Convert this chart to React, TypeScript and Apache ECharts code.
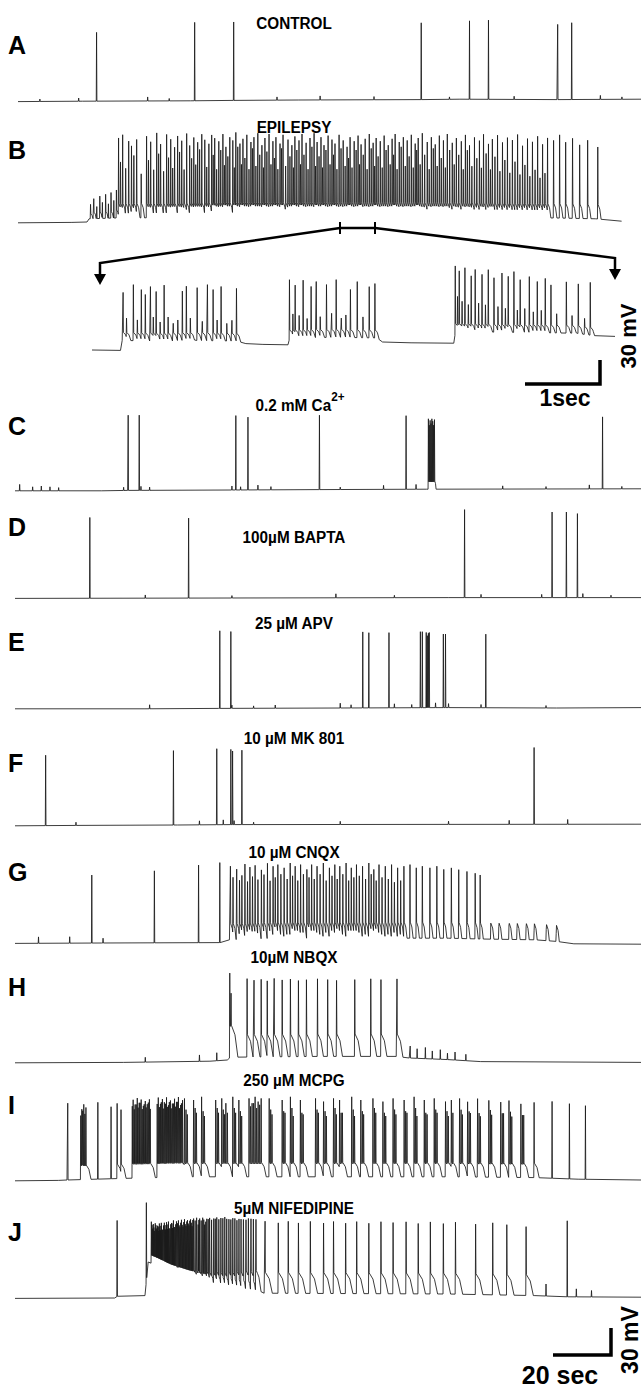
import React, { useEffect, useRef } from "react";
import * as echarts from "echarts";

const FONT = '"Liberation Sans", Arial, Helvetica, sans-serif';
const INK = "#000000";
const TRACE = "#1a1a1a";
const MV_PER_PX = 1.25; // 30 mV scale bar ~ 24 px
const REST = -70;

// ---------------- DATA ----------------
// slow potential: [time s, mV];  events: [time s, spike amplitude mV, after-depolarisation mV, decay s]
const aEnv = [[0, -72], [30, -71.5], [80, -71], [100, -70.5], [130, -70], [187, -69.5], [205, -69], [250, -69.5], [289, -69]];
const aEv = [[36.3, 86], [81.8, 98], [99.9, 98], [186.9, 96], [209.3, 98], [218.1, 99], [250.2, 94], [256.7, 96]];
const aSmall = [[10, 3], [28, 4], [60, 5], [70, 3], [120, 4], [140, 5], [165, 4], [200, 3], [230, 4], [270, 5], [280, 3]];

const bEnv = [[0, -71], [25, -70.5], [32, -70], [33, -66], [45, -65], [100, -64], [200, -64], [250, -65], [268, -66], [280, -69]];
const bEv = [
  [33.5, 18, 6, 1], [35, 25, 8, 1], [36.4, 15, 0, 0], [37.8, 28, 8, 1], [39, 20, 0, 0], [40.5, 30, 8, 1], [41.8, 18, 0, 0], [43, 32, 8, 1], [44.3, 22, 0, 0], [45.5, 35, 10, 1],
  [46.5, 100], [48.4, 104], [51.2, 96], [52.5, 90], [54.9, 98], [59.5, 102], [61.4, 95], [64.2, 106], [66.0, 92], [68.8, 104], [70.7, 98], [72.5, 88], [73.9, 102], [75.8, 96], [78.1, 105], [79.5, 90],
  [81.4, 100], [83.2, 94], [85.1, 104], [86.5, 97], [88.4, 92], [89.7, 103], [91.1, 99], [93, 95], [94.9, 104], [96.3, 88], [98.1, 100], [99.5, 96], [100.9, 106], [102.8, 92], [104.2, 98], [106, 103],
  [107.9, 94], [109.3, 100], [111.1, 105], [113, 90], [114.4, 99], [116.3, 104], [118.1, 95], [119.5, 100], [121.4, 92], [122.8, 103], [125.1, 97], [126.9, 90], [128.3, 101], [130.2, 96], [131.6, 104],
  [133.5, 93], [135.3, 99], [137.2, 105], [138.6, 94], [140.4, 100], [141.8, 90], [143.7, 102], [145.5, 97], [146.9, 92], [148.8, 103], [150.7, 96], [152.5, 88], [153.9, 100], [155.8, 95], [157.6, 102],
  [159, 91], [160.9, 98], [162.8, 104], [164.6, 93], [166, 99], [167.9, 95], [169.7, 102], [171.6, 90], [173.4, 98], [174.8, 104], [176.7, 94], [178.6, 100], [180.4, 96], [182.3, 103], [184.1, 92],
  [185.5, 99], [187.4, 105], [189.7, 94], [191.6, 100], [193.4, 91], [195.3, 102], [197.2, 96], [199, 104], [201.3, 93], [203.2, 99], [205.5, 95], [207.4, 103], [209.3, 90], [211.6, 100], [213.9, 96],
  [215.8, 104], [218.1, 92], [219.9, 98], [222.3, 103], [224.6, 94], [226.9, 100], [229.2, 97], [231.6, 104], [233.9, 90], [236.2, 99], [238.5, 95], [240.9, 102], [243.2, 92], [245.5, 100],
  [248.3, 97], [251.1, 104], [253.9, 95], [257.1, 100], [260.4, 92], [264.1, 98], [268.8, 90],
];
const bInner = [
  [47.4, 70], [49.8, 62], [53.6, 78], [57, 55], [60.4, 72], [62.8, 60], [65.1, 80], [67.4, 58], [69.7, 75], [71.6, 62], [74.8, 82], [76.9, 60], [80.4, 74], [82.3, 66], [84.1, 85], [87.4, 63],
  [90.4, 78], [92, 60], [93.9, 84], [95.6, 65], [97.2, 76], [100.2, 62], [101.8, 88], [103.5, 66], [105.1, 74], [107, 60], [108.6, 86], [110.2, 64], [112, 78], [113.7, 62], [115.3, 82], [117.2, 66],
  [118.8, 74], [120.4, 60], [122.1, 86], [124, 64], [126, 76], [127.6, 62], [129.2, 84], [130.9, 66], [132.5, 78], [134.4, 60], [136.2, 88], [137.9, 64], [139.5, 76], [141.1, 62], [142.7, 84],
  [144.6, 66], [146.2, 78], [147.8, 60], [149.7, 86], [151.6, 64], [153.2, 74], [154.8, 62], [156.7, 84], [158.3, 66], [160, 78], [161.8, 60], [163.7, 86], [165.3, 64], [166.9, 76], [168.8, 62],
  [170.6, 84], [172.5, 66], [174.1, 78], [175.7, 60], [177.6, 88], [179.5, 64], [181.3, 76], [183.2, 62], [184.8, 84], [186.4, 66], [188.5, 78], [190.6, 60], [192.5, 86], [194.3, 64], [196.2, 74],
  [198.1, 62], [200.1, 84], [202.2, 66], [204.3, 78], [206.4, 60], [208.3, 84], [210.4, 64], [212.7, 74], [214.8, 62], [217, 80], [219, 60], [221.1, 76], [223.4, 58], [225.7, 72], [228, 56],
  [230.4, 70], [232.7, 54], [235, 66], [237.3, 52], [239.7, 60], [242, 50], [244.3, 56],
];

const inEnv = [[0, -70], [0.5, -70.5], [0.53, -58], [1.2, -59], [1.8, -58], [2.55, -59], [2.7, -62], [3.0, -63], [3.44, -63.5], [3.47, -55], [4.3, -54], [5.0, -55], [5.1, -60], [5.6, -61], [6.35, -61.5], [6.38, -47], [7.4, -48], [8.5, -49], [8.8, -52], [9.18, -53]];
const inEv = [
  [0.54, 60], [0.6, 28], [0.72, 70], [0.79, 26], [0.86, 64], [0.93, 58], [1.02, 68], [1.07, 30], [1.12, 62], [1.19, 24], [1.26, 70], [1.33, 30], [1.42, 22], [1.5, 26], [1.58, 62], [1.65, 68], [1.72, 28],
  [1.84, 66], [1.93, 24], [2.02, 70], [2.12, 64], [2.19, 26], [2.26, 68], [2.36, 22], [2.45, 26], [2.53, 66],
  [3.46, 74], [3.52, 30], [3.56, 66], [3.63, 28], [3.7, 72], [3.77, 24], [3.84, 64], [3.93, 70], [4.0, 26], [4.11, 66], [4.2, 30], [4.28, 72], [4.37, 24], [4.45, 28], [4.53, 60], [4.65, 70], [4.75, 26],
  [4.86, 64], [4.96, 68],
  [6.37, 84], [6.41, 44], [6.44, 76], [6.49, 38], [6.54, 80], [6.6, 34], [6.65, 70], [6.72, 78], [6.78, 36], [6.84, 72], [6.9, 34], [6.95, 78], [7.05, 68], [7.12, 32], [7.19, 74], [7.25, 30], [7.3, 70],
  [7.4, 76], [7.46, 28], [7.51, 66], [7.59, 30], [7.67, 70], [7.74, 26], [7.81, 64], [7.88, 28], [7.95, 68], [8.05, 60], [8.15, 24], [8.32, 64], [8.42, 22], [8.53, 62], [8.64, 20], [8.74, 66],
];

const cEnv = [[0, -71], [40, -71], [52, -70.5], [100, -70], [140, -69.5], [190, -69], [289, -68.5]];
const cEv = [[52.1, 94], [57.2, 94], [101.8, 93], [107.4, 91], [140.4, 93], [180.4, 92], [190.7, 88, 10, 0.6], [191.1, 80, 10, 0.6], [191.5, 86, 10, 0.6], [191.9, 82, 10, 0.6], [192.3, 88, 10, 0.6], [192.7, 85, 10, 0.6], [193.1, 80, 10, 0.6], [193.5, 87, 10, 0.6], [271.1, 90]];
const cSmall = [[2, 8], [8, 5], [12, 6], [16, 5], [20, 4], [50, 4], [58, 5], [62, 4], [100, 5], [104, 4], [112, 6], [118, 4], [150, 3], [170, 5], [185, 6], [225, 4], [245, 3], [265, 5], [280, 3]];

const dEnv = [[0, -70.5], [100, -70], [200, -69.5], [289, -69.5]];
const dEv = [[34.4, 101], [80, 100], [207.4, 110], [247.8, 107], [254.4, 107], [259.5, 105]];
const dSmall = [[60, 4], [100, 3], [148, 5], [175, 3], [215, 4], [243, 4], [262, 5], [275, 3]];

const eEnv = [[0, -71], [60, -71], [94, -70.5], [150, -70], [200, -69.5], [250, -70], [289, -69.5]];
const eEv = [[94.4, 97], [99.5, 96], [160.4, 95], [163.2, 94], [172.5, 94], [187, 95], [187.9, 95], [189.7, 94], [190.2, 90], [190.7, 93], [191.1, 94], [197.6, 92], [198.6, 92], [217.2, 92]];
const eSmall = [[62, 5], [100, 4], [110, 3], [120, 4], [150, 6], [155, 4], [175, 5], [183, 4], [194, 6], [200, 5], [215, 4], [245, 3]];

const fEnv = [[0, -71], [30, -70.5], [75, -70], [100, -69.5], [289, -69]];
const fEv = [[14, 88], [73, 93], [93, 95], [99.5, 94], [100.3, 92], [104.6, 93], [239.5, 96]];
const fSmall = [[28, 4], [85, 5], [96, 6], [101, 5], [110, 3], [150, 4], [200, 4], [228, 5], [255, 6]];

const gEnv = [[0, -70.5], [40, -70], [95, -69.5], [99, -66], [120, -64], [200, -64], [215, -65], [240, -66], [250, -68], [258, -71], [289, -71.5]];
const gEv = [
  [10.7, 8, 0, 0], [25.1, 8, 0, 0], [35.3, 85, 0, 0], [40.5, 6, 0, 0], [64.2, 90, 0, 0], [84.6, 97, 0, 0], [94.4, 100, 0, 0],
  [99.3, 92], [102.2, 88], [106, 94], [108.3, 90], [110.7, 92], [113.6, 86], [116.4, 94], [119, 90], [121.2, 92], [124.1, 88], [126.9, 94], [129.2, 90], [131.7, 92], [134.6, 86], [136.8, 92],
  [139.3, 90], [142.2, 94], [145, 88], [147.5, 92], [149.8, 90], [152.7, 94], [155.1, 88], [157.5, 92], [160.3, 90], [163.2, 94], [165.5, 86], [167.9, 92], [170.8, 90], [173.7, 92], [176.5, 88],
  [179.4, 90], [182.2, 92], [185.1, 88], [187.9, 90], [191.4, 88], [194.6, 90], [197.8, 86], [201.3, 88], [204.7, 86], [208.5, 84], [212.3, 82], [214.6, 80],
  [100.5, 78], [103.5, 74], [104.6, 80], [107.2, 72], [109.5, 78], [112, 74], [114.8, 80], [117.6, 72], [120, 76], [122.6, 80], [125.5, 74], [128, 78], [130.4, 72], [133, 80], [135.6, 76],
  [138, 74], [140.7, 80], [143.5, 72], [146.2, 78], [148.6, 74], [151.2, 80], [153.9, 72], [156.3, 76], [158.8, 78], [161.7, 74], [164.3, 80], [166.6, 72], [169.3, 76], [172.2, 74], [175, 70], [177.9, 72],
  [219.5, 20], [223.2, 16], [227.9, 18], [231.6, 14], [235.8, 16], [239.5, 12], [245.1, 14], [249.7, 10],
];

const hEnv = [[0, -71], [50, -70.5], [90, -69], [98, -67.5], [99.5, -64], [140, -63], [176, -63], [182, -65], [200, -67], [215, -69.5], [289, -70.5]];
const hEv = [
  [60, 6, 0, 0], [85, 8, 0, 0], [93, 10, 0, 0],
  [99, 106, 40, 3], [99.6, 80, 40, 3], [107, 98], [110.2, 96], [113.5, 97], [116.3, 95], [119.5, 98], [123.2, 96], [127, 97], [130.7, 95], [134.4, 96], [139.5, 97], [144.2, 96], [148.3, 95], [156.7, 96],
  [164.1, 97], [168.8, 96], [176.2, 97],
  [182.3, 15, 0, 0], [185.5, 12, 0, 0], [189.3, 14, 0, 0], [192.5, 10, 0, 0], [196.2, 12, 0, 0], [199.5, 8, 0, 0], [203, 10, 0, 0], [208, 8, 0, 0],
];

const iEnv = [[0, -71], [20, -70.5], [24, -70], [50, -68], [80, -66], [200, -66], [240, -67], [260, -69], [289, -70]];
const iEv = [
  [24.2, 96, 0, 0], [30.7, 88], [31.6, 94], [32.6, 90], [38.1, 96, 0, 0], [44.2, 90, 0, 0], [47, 94], [48.8, 86],
  [54.4, 98], [55.3, 92], [56.3, 100], [57.2, 94], [58.1, 98], [59.1, 90], [60, 96], [60.9, 92], [61.9, 98],
  [66, 100], [67, 92], [67.9, 98], [68.8, 94], [69.8, 100], [70.7, 90], [71.6, 96], [72.5, 92], [73.5, 98], [74.4, 94], [75.3, 100], [76.3, 90], [77.2, 96],
  [78.1, 98], [82.3, 96], [86, 100], [92.5, 96], [95.3, 98], [97.2, 92], [100.4, 100], [103.2, 96],
  [107.9, 98], [109.3, 92], [110.7, 100], [112.1, 94], [113.5, 98],
  [117.2, 98], [123.2, 96], [127, 100], [131.6, 96], [138.6, 98], [142.3, 94], [146.9, 98], [149.7, 96], [155.3, 100], [159.5, 96], [165.1, 98], [169.7, 94], [174.4, 98], [179.5, 96], [184.1, 100],
  [188.8, 96], [193.4, 98], [198.6, 94], [201.3, 96], [205.1, 98], [208.8, 94], [213.4, 98], [218.6, 96], [224.1, 94], [227.9, 96], [233.4, 92], [239.5, 94],
  [247.8, 96, 0, 0], [255.8, 94, 0, 0], [263.2, 92, 0, 0],
];
const iInner = [
  [78.8, 84], [83, 86], [86.7, 82], [93.2, 86], [96, 84], [97.9, 80], [101.1, 86], [103.9, 82], [117.9, 84], [123.9, 82], [127.7, 86], [132.3, 80], [139.3, 84], [143, 82], [147.6, 86], [150.4, 80],
  [156, 84], [160.2, 82], [165.8, 86], [170.4, 80], [175.1, 84], [180.2, 82], [184.8, 86], [189.5, 80], [194.1, 84], [199.3, 82], [202, 80], [205.8, 84], [209.5, 82], [214.1, 80], [219.3, 84],
  [224.8, 80], [228.6, 82], [234.1, 78],
  [79.4, 78], [83.6, 80], [87.3, 76], [93.8, 80], [96.6, 78], [101.7, 80], [104.5, 76], [118.5, 78], [124.5, 80], [128.3, 76], [132.9, 78], [139.9, 80], [143.6, 76], [148.2, 78], [151, 80],
  [156.6, 76], [160.8, 78], [166.4, 80], [171, 76], [175.7, 78], [180.8, 80], [185.4, 76], [190.1, 78], [194.7, 80], [199.9, 76], [206.4, 78], [210.1, 80], [214.7, 76], [219.9, 78], [225.4, 80],
  [229.2, 76], [234.7, 78],
  [30.2, 80], [31.1, 86], [32.1, 82], [54.0, 90], [54.9, 86], [55.8, 92], [56.7, 88], [57.6, 94], [58.6, 86], [59.5, 92], [60.4, 88], [61.4, 94], [62.3, 86], [65.5, 92], [66.5, 88], [67.4, 94],
  [68.3, 86], [69.3, 92], [70.2, 88], [71.1, 94], [72, 86], [73, 92], [73.9, 88], [74.8, 94], [75.8, 86], [76.7, 92], [108.6, 88], [110, 92], [111.4, 86], [112.8, 90],
];

const jEnv = [[0, -70.5], [46, -70], [47.5, -67.5], [60, -67], [61.5, -25], [66, -30], [72, -38], [80, -45], [90, -52], [100, -56], [112, -60], [115, -64], [200, -65], [240, -67], [255, -68.5], [289, -69]];
const jEv = [
  [47, 95, 0, 0], [60.5, 98, 0, 0],
  [62.8, 52, 10, 0.8], [63.4, 44, 10, 0.8], [63.7, 50, 10, 0.8], [64.2, 42, 10, 0.8], [64.6, 52, 10, 0.8], [65.1, 46, 10, 0.8], [65.6, 50, 10, 0.8], [66, 44, 10, 0.8], [66.5, 54, 10, 0.8],
  [67, 46, 10, 0.8], [67.4, 56, 10, 0.8], [68, 48, 10, 0.8], [68.8, 58, 10, 0.8], [69.3, 50, 10, 0.8], [69.8, 60, 10, 0.8], [70.2, 52, 10, 0.8], [70.7, 62, 10, 0.8], [71.4, 54, 10, 0.8],
  [72.1, 62, 10, 0.8], [72.6, 56, 10, 0.8], [73, 66, 10, 0.8], [73.7, 58, 10, 0.8], [74.4, 66, 10, 0.8], [75.3, 68, 10, 0.8], [76, 60, 10, 0.8], [76.7, 70, 10, 0.8], [77.4, 62, 10, 0.8],
  [78.1, 72, 10, 0.8], [78.8, 64, 10, 0.8], [79.5, 72, 10, 0.8], [80.2, 66, 10, 0.8], [80.9, 74, 10, 0.8], [81.6, 66, 10, 0.8], [82.3, 76, 12, 1], [83.7, 78, 12, 1], [84.4, 70, 12, 1],
  [85.1, 78, 12, 1], [86.5, 80, 12, 1], [87.4, 72, 12, 1], [88.4, 80, 14, 1.2], [89.7, 82, 14, 1.2], [91.6, 82, 14, 1.2], [93, 84, 16, 1.4], [94.9, 84, 16, 1.4], [96.7, 86, 16, 1.4],
  [98.6, 84, 18, 1.6], [100.4, 86, 18, 1.6], [102.3, 84, 20, 1.8], [104.2, 86, 20, 1.8], [106.5, 86, 22, 2], [108.8, 88, 22, 2], [111.1, 88, 24, 2.2],
  [115.3, 90], [121.4, 88], [126, 90], [130.7, 88], [136.2, 90], [142.3, 88], [146.9, 90], [152.5, 88], [157.6, 90], [163.2, 88], [168.8, 90], [174.4, 89], [180.4, 90], [186, 88], [191.6, 90],
  [197.6, 88], [203.2, 90], [212.5, 88], [220.4, 90], [226.9, 88], [235.8, 86],
  [245, 15, 0, 0], [254.8, 95, 0, 0], [259, 10, 0, 0], [266, 8, 0, 0],
];
const jDense = [
  [63.1, 48], [63.95, 46], [64.9, 50], [65.35, 44], [65.8, 48], [66.25, 50], [66.75, 46], [67.2, 52], [67.7, 48], [68.4, 54], [69.05, 50], [69.55, 56], [70, 52], [70.45, 58], [71, 54], [71.75, 60],
  [72.35, 56], [72.8, 62], [73.35, 58], [74.05, 62], [74.85, 64], [75.65, 62], [76.35, 66], [77.05, 64], [77.75, 68], [78.45, 66], [79.15, 70], [79.85, 68], [80.55, 72], [81.25, 70], [81.95, 74],
  [83, 74], [84.75, 76], [85.8, 76], [87.0, 78], [87.9, 76], [89.05, 80], [90.6, 80], [92.3, 82], [93.95, 82], [95.8, 84], [97.6, 84], [99.5, 84], [101.35, 86], [103.25, 86], [105.3, 86],
  [107.6, 88], [109.9, 88],
];

// ---------------- LAYOUT ----------------
const PANELS = [
  { label: "A", title: "CONTROL", env: aEnv, ev: [...aEv, ...aSmall], after: 0, decay: 0, rest: 100, labelY: 45, titleY: 23, left: 18, right: 641, tmax: 289, w: 0.15 },
  { label: "B", title: "EPILEPSY", env: bEnv, ev: [...bEv, ...bInner], after: 18, decay: 1.4, rest: 222, labelY: 150, titleY: 127, left: 18, right: 641, tmax: 289, w: 0.15 },
  { label: "", title: "", env: inEnv, ev: inEv, after: 10, decay: 0.07, rest: 350, labelY: 0, titleY: 0, left: 92, right: 615, tmax: 9.18, w: 0.006 },
  { label: "C", title: "", env: cEnv, ev: [...cEv, ...cSmall], after: 0, decay: 0, rest: 490, labelY: 426, titleY: 400, left: 15, right: 641, tmax: 289, w: 0.15 },
  { label: "D", title: "100\u00b5M BAPTA", env: dEnv, ev: [...dEv, ...dSmall], after: 0, decay: 0, rest: 598, labelY: 527, titleY: 537, left: 15, right: 641, tmax: 289, w: 0.15 },
  { label: "E", title: "25 \u00b5M APV", env: eEnv, ev: [...eEv, ...eSmall], after: 0, decay: 0, rest: 708, labelY: 642, titleY: 623, left: 15, right: 641, tmax: 289, w: 0.15 },
  { label: "F", title: "10 \u00b5M MK 801", env: fEnv, ev: [...fEv, ...fSmall], after: 0, decay: 0, rest: 825, labelY: 763, titleY: 738, left: 15, right: 641, tmax: 289, w: 0.15 },
  { label: "G", title: "10 \u00b5M CNQX", env: gEnv, ev: gEv, after: 20, decay: 1.3, rest: 943, labelY: 872, titleY: 852, left: 15, right: 641, tmax: 289, w: 0.15 },
  { label: "H", title: "10\u00b5M NBQX", env: hEnv, ev: hEv, after: 28, decay: 2.6, rest: 1062, labelY: 987, titleY: 957, left: 15, right: 641, tmax: 289, w: 0.15 },
  { label: "I", title: "250 \u00b5M MCPG", env: iEnv, ev: [...iEv, ...iInner], after: 18, decay: 2.2, rest: 1180, labelY: 1105, titleY: 1080, left: 15, right: 641, tmax: 289, w: 0.15 },
  { label: "J", title: "5\u00b5M NIFEDIPINE", env: jEnv, ev: [...jEv, ...jDense.map(([t, a]) => [t, a, 10, 0.8])], after: 26, decay: 3.2, rest: 1298, labelY: 1232, titleY: 1208, left: 15, right: 641, tmax: 289, w: 0.15 },
];

function buildTrace(env: number[][], evs: number[][], w: number, defAfter: number, defDecay: number) {
  const envAt = (t: number) => {
    if (t <= env[0][0]) return env[0][1];
    for (let i = 1; i < env.length; i++) {
      if (t <= env[i][0]) {
        const [t0, v0] = env[i - 1];
        const [t1, v1] = env[i];
        return v0 + ((v1 - v0) * (t - t0)) / (t1 - t0);
      }
    }
    return env[env.length - 1][1];
  };
  const pts: number[][] = [];
  let last = -Infinity;
  const push = (t: number, v: number) => {
    if (t > last) {
      pts.push([t, v]);
      last = t;
    }
  };
  // after-depolarisation: holds near its level, then falls back (rounded "U" between bursts)
  let tail: { s: number; m: number; e: number; a: number; mDone: boolean } | null = null;
  const tailAt = (t: number) => {
    if (!tail || t >= tail.e) return 0;
    if (t <= tail.m) return tail.a - (0.3 * tail.a * (t - tail.s)) / (tail.m - tail.s);
    return (0.7 * tail.a * (tail.e - t)) / (tail.e - tail.m);
  };
  let ei = 0;
  const flush = (until: number) => {
    for (let guard = 0; guard < 100000; guard++) {
      const nEnv = ei < env.length ? env[ei][0] : Infinity;
      const nMid = tail && !tail.mDone && tail.m > last ? tail.m : Infinity;
      const nTail = tail && tail.e > last ? tail.e : Infinity;
      const nx = Math.min(nEnv, nMid, nTail);
      if (nx === Infinity || nx >= until) break;
      if (nx === nEnv) {
        push(nx, envAt(nx) + tailAt(nx));
        ei++;
      } else if (nx === nMid && tail) {
        push(nx, envAt(nx) + tailAt(nx));
        tail.mDone = true;
      } else {
        push(nx, envAt(nx));
        tail = null;
      }
    }
  };
  const sorted = [...evs].sort((p, q) => p[0] - q[0]);
  for (const ev of sorted) {
    const t = ev[0];
    const amp = ev[1];
    const after = ev.length > 2 ? ev[2] : defAfter;
    const decay = ev.length > 3 ? ev[3] : defDecay;
    flush(t);
    push(t, envAt(t) + tailAt(t));
    push(t + w, envAt(t + w) + amp);
    if (after > 0 && decay > 0) {
      const s = t + 2 * w;
      tail = { s, m: s + 0.55 * decay, e: s + decay, a: after, mDone: false };
      push(s, envAt(s) + after);
    } else {
      push(t + 2 * w, envAt(t + 2 * w) + tailAt(t + 2 * w));
    }
  }
  flush(Infinity);
  return pts;
}

const centered = { textAlign: "center", textVerticalAlign: "middle", align: "center", verticalAlign: "middle" };

function buildOption() {
  const grid: any[] = [];
  const xAxis: any[] = [];
  const yAxis: any[] = [];
  const series: any[] = [];
  const graphic: any[] = [];
  const TOP = 100;
  const BOT = 20;
  PANELS.forEach((p, i) => {
    grid.push({ left: p.left, width: p.right - p.left, top: p.rest - TOP, height: TOP + BOT });
    xAxis.push({ type: "value", gridIndex: i, min: 0, max: p.tmax, show: false });
    yAxis.push({ type: "value", gridIndex: i, min: REST - BOT * MV_PER_PX, max: REST + TOP * MV_PER_PX, show: false });
    series.push({
      type: "line",
      xAxisIndex: i,
      yAxisIndex: i,
      data: buildTrace(p.env, p.ev, p.w, p.after, p.decay),
      symbol: "none",
      showSymbol: false,
      silent: true,
      clip: false,
      lineStyle: { color: TRACE, width: 0.85 },
      z: 2,
    });
    if (p.label) {
      graphic.push({
        type: "text",
        x: 8,
        y: p.labelY,
        style: { text: p.label, font: `bold 25px ${FONT}`, fill: INK, textAlign: "left", textVerticalAlign: "middle", align: "left", verticalAlign: "middle" },
      });
    }
    if (p.title) {
      graphic.push({
        type: "text",
        x: 294,
        y: p.titleY,
        scaleX: 0.9,
        style: { text: p.title, font: `bold 17px ${FONT}`, fill: INK, ...centered },
      });
    }
  });

  // C title with superscript
  graphic.push({
    type: "text",
    x: 300,
    y: 400,
    scaleX: 0.9,
    style: {
      text: "{a|0.2 mM Ca}{b|2+}",
      rich: {
        a: { font: `bold 17px ${FONT}`, fill: INK, lineHeight: 26, verticalAlign: "bottom" },
        b: { font: `bold 13px ${FONT}`, fill: INK, lineHeight: 26, verticalAlign: "bottom", padding: [0, 0, 10, 0] },
      },
      ...centered,
    },
  });

  const thick = { stroke: INK, lineWidth: 2.5, fill: "none" };
  // bracket linking B to the expanded inset
  graphic.push({ type: "line", shape: { x1: 340, y1: 228, x2: 375, y2: 228 }, style: thick });
  graphic.push({ type: "line", shape: { x1: 340, y1: 222, x2: 340, y2: 234 }, style: { stroke: INK, lineWidth: 2 } });
  graphic.push({ type: "line", shape: { x1: 375, y1: 222, x2: 375, y2: 234 }, style: { stroke: INK, lineWidth: 2 } });
  graphic.push({ type: "polyline", shape: { points: [[340, 228], [100, 263], [100, 276]] }, style: thick });
  graphic.push({ type: "polyline", shape: { points: [[375, 228], [615, 258], [615, 271]] }, style: thick });
  graphic.push({ type: "polygon", shape: { points: [[94, 274], [106, 274], [100, 285]] }, style: { fill: INK } });
  graphic.push({ type: "polygon", shape: { points: [[609, 269], [621, 269], [615, 280]] }, style: { fill: INK } });

  // inset scale bar
  graphic.push({ type: "polyline", shape: { points: [[525, 384], [600, 384], [600, 360]] }, style: { stroke: INK, lineWidth: 3.5, fill: "none" } });
  graphic.push({ type: "text", x: 565, y: 398, style: { text: "1sec", font: `bold 23px ${FONT}`, fill: INK, ...centered } });
  graphic.push({ type: "text", x: 628, y: 336, rotation: Math.PI / 2, style: { text: "30 mV", font: `bold 22px ${FONT}`, fill: INK, ...centered } });

  // main scale bar
  graphic.push({ type: "polyline", shape: { points: [[553, 1355], [611, 1355], [611, 1328]] }, style: { stroke: INK, lineWidth: 3.5, fill: "none" } });
  graphic.push({ type: "text", x: 560, y: 1375, style: { text: "20 sec", font: `bold 25px ${FONT}`, fill: INK, ...centered } });
  graphic.push({ type: "text", x: 630, y: 1340, rotation: Math.PI / 2, style: { text: "30 mV", font: `bold 23px ${FONT}`, fill: INK, ...centered } });

  return { animation: false, backgroundColor: "#ffffff", grid, xAxis, yAxis, series, graphic };
}

export default function App() {
  const ref = useRef<HTMLDivElement>(null);
  useEffect(() => {
    if (!ref.current) return;
    const chart = echarts.init(ref.current, undefined, { renderer: "svg" });
    chart.setOption(buildOption() as any);
    return () => chart.dispose();
  }, []);
  return <div ref={ref} style={{ position: "absolute", left: 0, top: 0, width: 642, height: 1390, background: "#fff" }} />;
}
